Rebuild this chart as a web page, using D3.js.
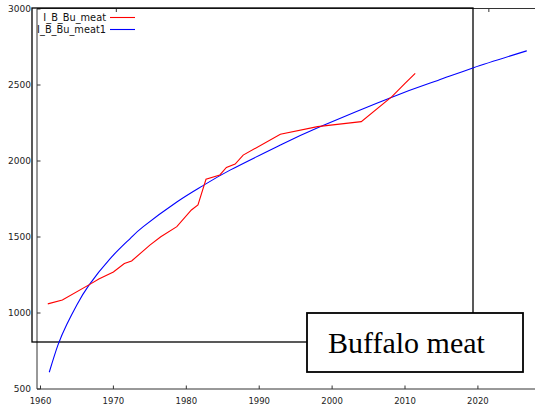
<!DOCTYPE html>
<html><head><meta charset="utf-8">
<script src="https://cdn.jsdelivr.net/npm/d3@7"></script>
<style>body{margin:0;background:#fff}svg{display:block}</style>
</head><body><svg id="c" width="535" height="412"></svg>
<script>
const xTicks = [1960,1970,1980,1990,2000,2010,2020];
const yTicks = [500,1000,1500,2000,2500,3000];
const topTicks = [1970.4, 2021.5];
const seriesNames = ["I_B_Bu_meat","I_B_Bu_meat1"];
const redYears  = [1961,1963,1967,1968,1970,1971.5,1972.5,1975,1976.5,1978.7,1980.7,1981.6,1982.7,1984.6,1985.5,1986.7,1987.8,1992.9,1998,2004,2008.2,2010,2011.4];
const redValues = [1060,1085,1195,1224,1270,1325,1342,1447,1502,1568,1678,1711,1880,1908,1958,1980,2039,2176,2226,2259,2423,2510,2577];
const blueYears  = [1961.2,1962.4,1963.6,1965,1966.6,1969.5,1972.3,1974.1,1978.7,1982.3,1986,1992.9,1998.1,2008.2,2014.5,2019.4,2026.7];
const blueValues = [610,790,925,1055,1180,1355,1490,1568,1730,1838,1940,2105,2220,2420,2530,2614,2725];
const title = "Buffalo meat";

const svg = d3.select("#c");
const x = d3.scaleLinear().domain([1959.52, 2027.83]).range([37, 535]);
const y = d3.scaleLinear().domain([500, 3000]).range([389, 9]);
const axisCol = "#333";

// axes lines
svg.append("line").attr("x1",37).attr("x2",37).attr("y1",8.5).attr("y2",389).attr("stroke",axisCol);
svg.append("line").attr("x1",37).attr("x2",535).attr("y1",389).attr("y2",389).attr("stroke",axisCol);
svg.append("line").attr("x1",37).attr("x2",535).attr("y1",8.5).attr("y2",8.5).attr("stroke",axisCol);

// bottom ticks
const gx = svg.append("g");
xTicks.forEach(t=>{
  gx.append("line").attr("x1",x(t)).attr("x2",x(t)).attr("y1",389).attr("y2",385.5).attr("stroke",axisCol);
  gx.append("text").attr("x",x(t)).attr("y",404).attr("text-anchor","middle")
    .attr("font-family","DejaVu Sans").attr("font-size",8.5).attr("fill","#222").text(t);
});
topTicks.forEach(t=>{
  svg.append("line").attr("x1",x(t)).attr("x2",x(t)).attr("y1",8.5).attr("y2",12).attr("stroke",axisCol);
});
const gy = svg.append("g");
yTicks.forEach(t=>{
  gy.append("line").attr("x1",37).attr("x2",40.5).attr("y1",y(t)).attr("y2",y(t)).attr("stroke",axisCol);
  gy.append("text").attr("x",31).attr("y",y(t)+3).attr("text-anchor","end")
    .attr("font-family","DejaVu Sans").attr("font-size",9).attr("fill","#222").text(t);
});

// big frame rectangle
svg.append("rect").attr("x",32).attr("y",8).attr("width",441).attr("height",334)
  .attr("fill","none").attr("stroke","#000").attr("stroke-width",1.3);

// lines
const redData = redYears.map((yr,i)=>[yr, redValues[i]]);
const blueData = blueYears.map((yr,i)=>[yr, blueValues[i]]);
const blueLine = d3.line().x(d=>x(d[0])).y(d=>y(d[1])).curve(d3.curveNatural);
const redLine = d3.line().x(d=>x(d[0])).y(d=>y(d[1]));
svg.append("path").attr("d", blueLine(blueData))
  .attr("fill","none").attr("stroke","#0000ff").attr("stroke-width",1.1);
svg.append("path").attr("d", redLine(redData))
  .attr("fill","none").attr("stroke","#ff0000").attr("stroke-width",1.1);

// legend
const legCols = ["#ff0000","#0000ff"];
seriesNames.forEach((n,i)=>{
  const ly = 17.5 + i*12;
  svg.append("text").attr("x",106).attr("y",ly+3.5).attr("text-anchor","end")
    .attr("font-family","DejaVu Sans").attr("font-size",9.8).attr("fill","#111").text(n);
  svg.append("line").attr("x1",110).attr("x2",135).attr("y1",ly).attr("y2",ly)
    .attr("stroke",legCols[i]).attr("stroke-width",1.1);
});

// title box
svg.append("rect").attr("x",307).attr("y",313).attr("width",216).attr("height",59)
  .attr("fill","#fff").attr("stroke","#000").attr("stroke-width",1.8);
svg.append("text").attr("x",328).attr("y",352.5)
  .attr("font-family","Liberation Serif").attr("font-size",30).attr("fill","#000").text(title);
</script></body></html>
